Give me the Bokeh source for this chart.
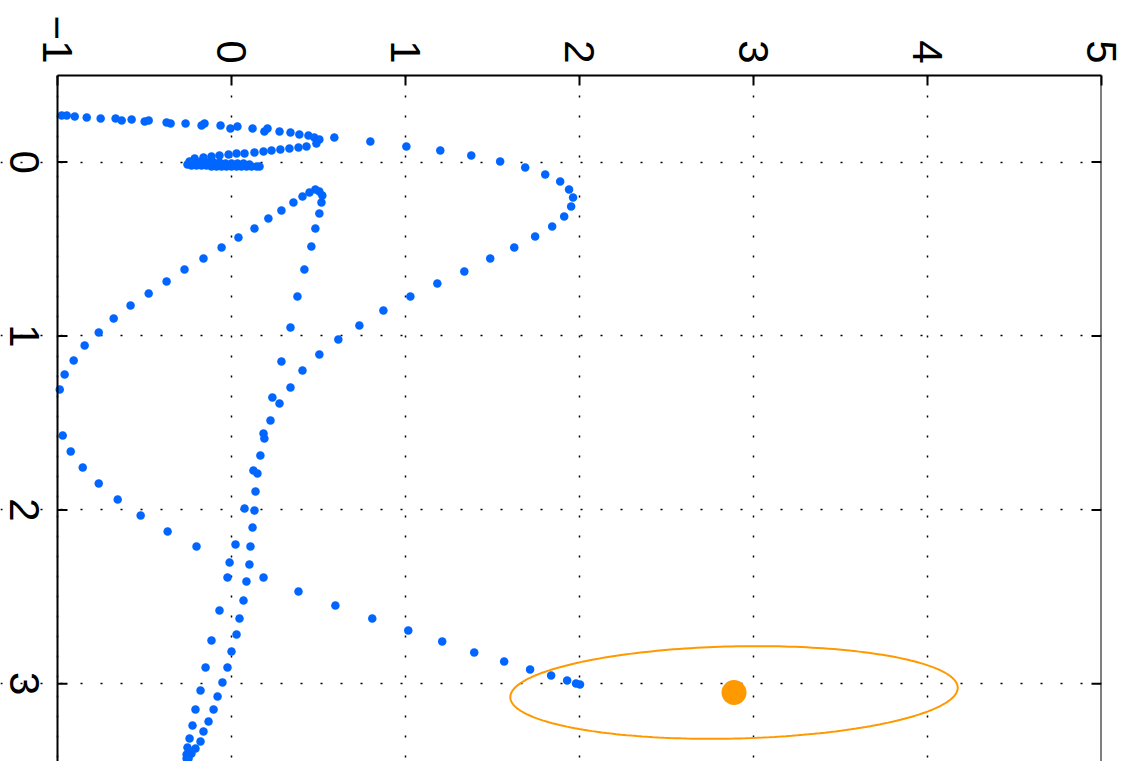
import numpy as np
from bokeh.plotting import figure
from bokeh.models import Range1d, FixedTicker, Span
from bokeh.core.properties import value
from bokeh.embed import file_html
from bokeh.resources import INLINE

# First pass: upper row heading right, lower row back, then the dense knot at the origin
pass1_x = [-0.976, -0.947, -0.901, -0.832, -0.752, -0.666, -0.631, -0.574, -0.499, -0.476,
           -0.373, -0.350, -0.264, -0.172, -0.155, -0.063, -0.006, 0.034, 0.121, 0.189,
           0.207, 0.276, 0.339, 0.390, 0.442, 0.476, 0.505,
           0.488, 0.431, 0.385, 0.333, 0.281, 0.230, 0.184, 0.132, 0.075, 0.029,
           -0.017, -0.069, -0.115, -0.161, -0.212,
           -0.241, -0.207, -0.172, -0.138, -0.103, -0.069, -0.034, 0.000, 0.034, 0.069, 0.103,
           0.161, 0.144, 0.115, 0.086, 0.057, 0.029, 0.000, -0.029, -0.057, -0.086,
           -0.115, -0.144, -0.172, -0.201, -0.230, -0.253]
pass1_y = [-0.268, -0.268, -0.262, -0.256, -0.251, -0.251, -0.239, -0.245, -0.233, -0.239,
           -0.228, -0.222, -0.222, -0.210, -0.222, -0.210, -0.193, -0.205, -0.193, -0.176,
           -0.193, -0.176, -0.170, -0.159, -0.153, -0.141, -0.130,
           -0.107, -0.090, -0.084, -0.078, -0.072, -0.067, -0.061, -0.055, -0.049, -0.049,
           -0.044, -0.038, -0.032, -0.026, -0.021,
           -0.003, -0.003, -0.003, 0.002, 0.002, 0.002, 0.008, 0.008, 0.008, 0.008, 0.014,
           0.025, 0.025, 0.025, 0.025, 0.025, 0.025, 0.025, 0.025, 0.025, 0.025,
           0.025, 0.020, 0.020, 0.020, 0.020, 0.014]

# Second pass: wide loop on the right, then down the middle
pass2_x = [0.591, 0.798, 1.005, 1.200, 1.378, 1.544, 1.688, 1.803, 1.889, 1.940,
           1.963, 1.952, 1.912, 1.843, 1.745, 1.625, 1.487, 1.338, 1.183, 1.028,
           0.873, 0.735, 0.614, 0.505, 0.408, 0.339, 0.276, 0.224, 0.184, 0.166,
           0.149, 0.138, 0.132, 0.121, 0.109, 0.103, 0.086, 0.069, 0.046, 0.029,
           0.000, -0.023, -0.052, -0.080, -0.103, -0.132, -0.161, -0.178, -0.207, -0.230,
           -0.247, -0.258]
pass2_y = [-0.141, -0.118, -0.090, -0.067, -0.038, -0.003, 0.031, 0.071, 0.112, 0.158,
           0.204, 0.255, 0.313, 0.370, 0.428, 0.491, 0.554, 0.629, 0.698, 0.773,
           0.853, 0.940, 1.020, 1.106, 1.198, 1.296, 1.388, 1.486, 1.561, 1.687,
           1.791, 1.894, 2.003, 2.101, 2.210, 2.314, 2.412, 2.521, 2.624, 2.716,
           2.814, 2.906, 2.992, 3.073, 3.148, 3.217, 3.274, 3.332, 3.372, 3.401,
           3.418, 3.430]

# Third pass: up to the turn near (0.5, 0.2), out to the left edge, then down to (2, 3)
pass3_x = [-0.247, -0.258, -0.241, -0.253, -0.241, -0.224, -0.207, -0.178, -0.149, -0.115,
           -0.069, -0.023, 0.023, 0.075, 0.126, 0.189, 0.235, 0.287, 0.339, 0.379,
           0.419, 0.459, 0.482, 0.505, 0.517, 0.522, 0.505, 0.482, 0.448, 0.408,
           0.356, 0.287, 0.212, 0.132, 0.040, -0.057, -0.161, -0.270, -0.373, -0.476,
           -0.580, -0.677, -0.763, -0.844, -0.907, -0.959, -0.987, -0.970, -0.924, -0.855,
           -0.763, -0.654, -0.522, -0.367, -0.201, -0.011, 0.184, 0.385, 0.597, 0.809,
           1.016, 1.211, 1.395, 1.567, 1.716, 1.837, 1.929, 1.980, 2.003]
pass3_y = [3.430, 3.407, 3.389, 3.366, 3.315, 3.240, 3.148, 3.039, 2.906, 2.751,
           2.578, 2.389, 2.199, 1.992, 1.773, 1.589, 1.354, 1.147, 0.951, 0.773,
           0.618, 0.485, 0.382, 0.296, 0.232, 0.192, 0.169, 0.158, 0.175, 0.198,
           0.232, 0.278, 0.324, 0.382, 0.434, 0.491, 0.554, 0.618, 0.687, 0.756,
           0.825, 0.899, 0.980, 1.055, 1.141, 1.221, 1.308, 1.572, 1.664, 1.756,
           1.848, 1.940, 2.032, 2.124, 2.210, 2.302, 2.389, 2.469, 2.550, 2.624,
           2.693, 2.757, 2.820, 2.872, 2.918, 2.952, 2.981, 2.998, 3.004]

# Goal estimate and its uncertainty ellipse (semi-axes and tilt in data units / radians)
goal_x = 2.888
goal_y = 3.050
ellipse_a = 1.286
ellipse_b = 0.265
ellipse_tilt = -0.022

x_ticks = [-1, 0, 1, 2, 3, 4, 5]
x_tick_labels = ["\u22121", "0", "1", "2", "3", "4", "5"]
y_ticks = [0, 1, 2, 3]
y_tick_labels = ["0", "1", "2", "3"]

BLUE = "#0066ff"
ORANGE = "#ff9900"
FONT = "Liberation Sans"
FONT_SIZE = "42px"

# Page geometry in pixels; the frame reaches the left page edge so that the
# left tick labels can sit in the strip beside the box.
WIDTH, HEIGHT = 1125, 761
BOX_LEFT, RIGHT_MARGIN, TOP_MARGIN = 57, 24, 75

x_lo, x_hi = x_ticks[0], x_ticks[-1]
px_per_unit = (WIDTH - RIGHT_MARGIN - BOX_LEFT) / (x_hi - x_lo)
x_start = x_lo - BOX_LEFT / px_per_unit

p = figure(width=WIDTH, height=HEIGHT, output_backend="svg", toolbar_location=None,
           x_range=Range1d(x_start, x_hi), y_range=Range1d(3.447, -0.498),
           x_axis_location="above", y_axis_location=None,
           min_border_left=0, min_border_top=TOP_MARGIN, min_border_right=RIGHT_MARGIN,
           min_border_bottom=0)
p.outline_line_color = None
p.background_fill_color = "white"
p.border_fill_color = "white"

# top axis: ticks pointing into the box, labels turned a quarter clockwise
ax = p.xaxis[0]
ax.bounds = (x_lo, x_hi)
ax.ticker = FixedTicker(ticks=x_ticks)
ax.major_label_overrides = {t: lab for t, lab in zip(x_ticks, x_tick_labels)}
ax.major_tick_in = 10
ax.major_tick_out = 0
ax.minor_tick_in = 0
ax.minor_tick_out = 0
ax.axis_line_width = 2
ax.major_tick_line_width = 2
ax.axis_line_color = "black"
ax.major_tick_line_color = "black"
ax.major_label_text_font = FONT
ax.major_label_text_font_size = FONT_SIZE
ax.major_label_text_color = "black"
ax.major_label_orientation = -np.pi / 2
ax.major_label_standoff = 12

# left and right box edges with inward ticks
for edge, direction in ((x_lo, 0.0), (x_hi, np.pi)):
    p.add_layout(Span(location=edge, dimension="height",
                      line_color="black", line_width=2))
    p.ray(x=[edge] * len(y_ticks), y=y_ticks, length=10, length_units="screen",
          angle=direction, line_color="black", line_width=2)

# left tick labels, also turned a quarter clockwise
p.text(x=[x_lo] * len(y_ticks), y=y_ticks, text=y_tick_labels,
       x_offset=-33, angle=-np.pi / 2, text_align="center", text_baseline="middle",
       text_font=value(FONT), text_font_size=FONT_SIZE, text_color="black")

p.xgrid.ticker = FixedTicker(ticks=x_ticks)
p.ygrid.ticker = FixedTicker(ticks=y_ticks)
p.ygrid.bounds = (x_lo, x_hi)
for g in (p.xgrid, p.ygrid):
    g.grid_line_color = "black"
    g.grid_line_width = 1.5
    g.grid_line_dash = "2 18"

for xs, ys in ((pass1_x, pass1_y), (pass2_x, pass2_y), (pass3_x, pass3_y)):
    p.scatter(xs, ys, size=8.5, fill_color=BLUE, line_color=None)

t = np.linspace(0, 2 * np.pi, 240)
ex = goal_x + ellipse_a * np.cos(t) * np.cos(ellipse_tilt) - ellipse_b * np.sin(t) * np.sin(ellipse_tilt)
ey = goal_y + ellipse_a * np.cos(t) * np.sin(ellipse_tilt) + ellipse_b * np.sin(t) * np.cos(ellipse_tilt)
p.line(ex, ey, line_color=ORANGE, line_width=2)
p.scatter([goal_x], [goal_y], size=25, fill_color=ORANGE, line_color=None)

open("out.html", "w").write(file_html(p, INLINE))
